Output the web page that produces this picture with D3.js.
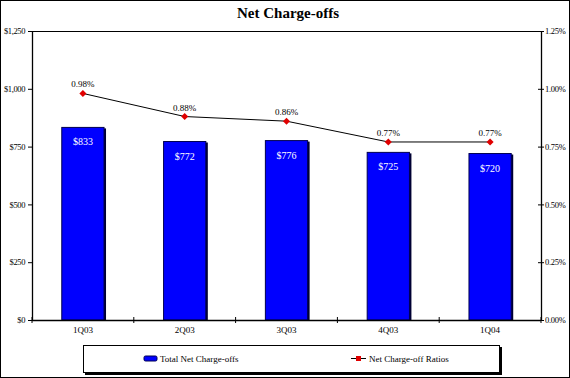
<!DOCTYPE html>
<html><head><meta charset="utf-8">
<script src="https://cdn.jsdelivr.net/npm/d3@7"></script>
<style>html,body{margin:0;padding:0;background:#fff}svg{display:block}</style>
</head><body>
<svg id="c" width="570" height="378"></svg>
<script>
const categories = ["1Q03","2Q03","3Q03","4Q03","1Q04"];
const chargeOffs = [833, 772, 776, 725, 720];
const ratios = [0.98, 0.88, 0.86, 0.77, 0.77];
const leftTicks = [0, 250, 500, 750, 1000, 1250];
const rightTicks = [0, 0.25, 0.5, 0.75, 1.0, 1.25];
const seriesNames = ["Total Net Charge-offs", "Net Charge-off Ratios"];

const svg = d3.select("#c");
const font = "'Liberation Serif', 'Times New Roman', serif";
const W = 570, H = 378;
const L = 32, R = 541, T = 31, B = 320;

svg.append("rect").attr("x",0.5).attr("y",0.5).attr("width",W-1).attr("height",H-1)
  .attr("fill","#fff").attr("stroke","#000").attr("stroke-width",1);

svg.append("text").attr("x",288).attr("y",18).attr("text-anchor","middle")
  .attr("font-family",font).attr("font-weight","bold").attr("font-size",15).text("Net Charge-offs");

const x = d3.scaleBand().domain(categories).range([L,R]).paddingInner(0.585).paddingOuter(0.2925);
const yL = d3.scaleLinear().domain([0,1250]).range([B,T]);
const yR = d3.scaleLinear().domain([0,1.25]).range([B,T]);

svg.append("line").attr("x1",L).attr("x2",R).attr("y1",T+0.5).attr("y2",T+0.5).attr("stroke","#000");

const g = svg.append("g");
categories.forEach((c,i)=>{
  const bx = x(c), bw = x.bandwidth(), by = yL(chargeOffs[i]);
  g.append("rect").attr("x",bx+2).attr("y",by+1).attr("width",bw).attr("height",B-by-1).attr("fill","#000033");
  g.append("rect").attr("x",bx).attr("y",by).attr("width",bw).attr("height",B-by)
    .attr("fill","#0000ff").attr("stroke","#000050").attr("stroke-width",1);
  g.append("text").attr("x",bx+bw/2).attr("y",by+18).attr("text-anchor","middle")
    .attr("font-family",font).attr("font-size",10).attr("fill","#fff").text("$"+chargeOffs[i]);
});

const axL = d3.axisLeft(yL).tickValues(leftTicks).tickSize(4).tickFormat(d=>"$"+d3.format(",")(d));
const gL = svg.append("g").attr("transform",`translate(${L},0)`).call(axL);
const axR = d3.axisRight(yR).tickValues(rightTicks).tickSize(3).tickFormat(d=>d3.format(".2f")(d)+"%");
const gR = svg.append("g").attr("transform",`translate(${R},0)`).call(axR);
gR.selectAll(".tick line").attr("x1",-3);
const xTickScale = d3.scaleLinear().domain([0,categories.length]).range([L,R]);
const axB = d3.axisBottom(x).tickSize(0).tickPadding(7);
const gB = svg.append("g").attr("transform",`translate(0,${B})`).call(axB);
[gL,gR,gB].forEach(a=>{
  a.select(".domain").attr("stroke","#000").attr("stroke-width",1.3);
  a.selectAll(".tick line").attr("stroke","#000");
  a.selectAll("text").attr("font-family",font).attr("font-size",9).attr("fill","#000");
});
gL.select(".domain").attr("d",`M0.5,${T}V${B}`);
gR.select(".domain").attr("d",`M0.5,${T}V${B}`);
gB.select(".domain").attr("d",`M${L},0.5H${R}`);
gL.selectAll("text").attr("x",-7).attr("font-size",8.5).attr("letter-spacing",-0.4);
gR.selectAll("text").attr("x",4).attr("font-size",8.5).attr("letter-spacing",-0.3);
d3.range(categories.length+1).forEach(i=>{
  gB.append("line").attr("x1",xTickScale(i)).attr("x2",xTickScale(i)).attr("y1",-3).attr("y2",3).attr("stroke","#000");
});

const cx = c => x(c)+x.bandwidth()/2;
const line = d3.line().x((d,i)=>cx(categories[i])).y(d=>yR(d));
svg.append("path").datum(ratios).attr("d",line).attr("fill","none").attr("stroke","#000").attr("stroke-width",1);
ratios.forEach((r,i)=>{
  svg.append("rect").attr("x",cx(categories[i])-2.5).attr("y",yR(r)-2.5).attr("width",5).attr("height",5)
    .attr("fill","#e00000").attr("transform",`rotate(45,${cx(categories[i])},${yR(r)})`);
  svg.append("text").attr("x",cx(categories[i])).attr("y",yR(r)-6).attr("text-anchor","middle")
    .attr("font-family",font).attr("font-size",9).text(d3.format(".2f")(r)+"%");
});

const lg = svg.append("g");
lg.append("rect").attr("x",85).attr("y",347).attr("width",417).attr("height",28).attr("fill","#000");
lg.append("rect").attr("x",83.5).attr("y",345.5).attr("width",416).attr("height",27).attr("fill","#fff").attr("stroke","#000");
lg.append("rect").attr("x",144).attr("y",356).attr("width",13).attr("height",5).attr("rx",1.5)
  .attr("fill","#0000ff").attr("stroke","#000050");
lg.append("text").attr("x",160).attr("y",362).attr("font-family",font).attr("font-size",9).text(seriesNames[0]);
lg.append("line").attr("x1",351).attr("x2",366).attr("y1",358.5).attr("y2",358.5).attr("stroke","#000");
lg.append("rect").attr("x",356).attr("y",356).attr("width",5).attr("height",5).attr("fill","#e00000");
lg.append("text").attr("x",369).attr("y",362).attr("font-family",font).attr("font-size",9).text(seriesNames[1]);
</script>
</body></html>
